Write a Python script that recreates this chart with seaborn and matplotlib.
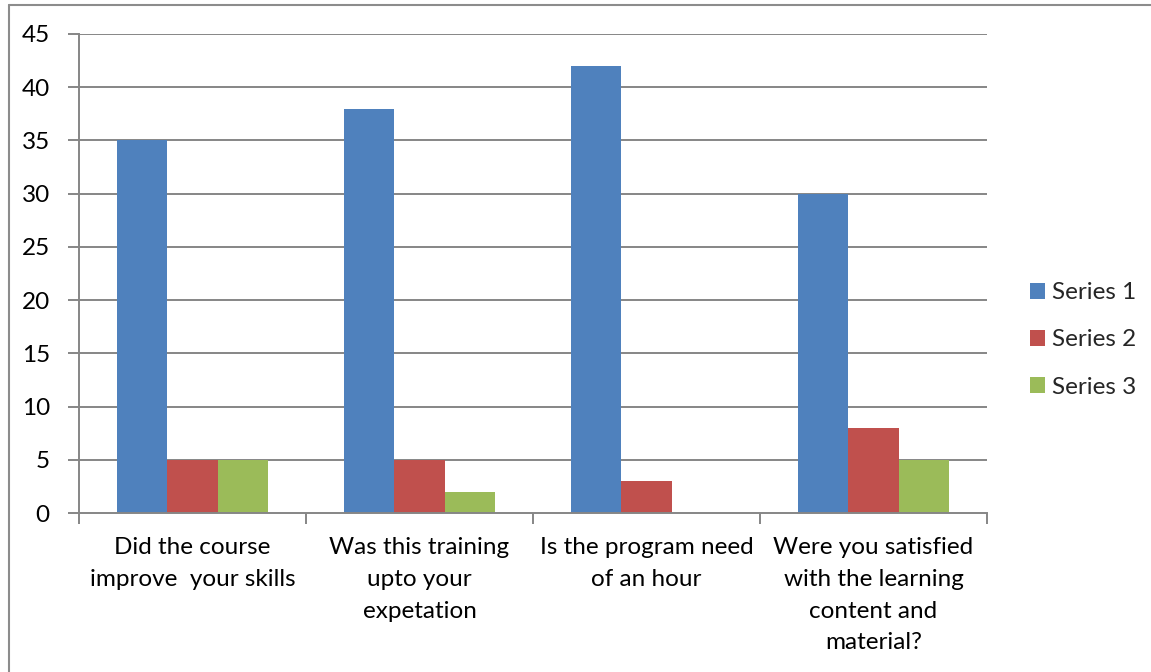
import matplotlib
matplotlib.use("Agg")
import matplotlib.pyplot as plt
from matplotlib.lines import Line2D
from matplotlib.patches import Patch
import seaborn as sns
import pandas as pd
import numpy as np

categories = [
    "Did the course\nimprove  your skills",
    "Was this training\nupto your\nexpetation",
    "Is the program need\nof an hour",
    "Were you satisfied\nwith the learning\ncontent and\nmaterial?",
]
series_names = ["Series 1", "Series 2", "Series 3"]
series1 = [35, 38, 42, 30]
series2 = [5, 5, 3, 8]
series3 = [5, 2, 0, 5]
colors = ["#4F81BD", "#C0504D", "#9BBB59"]
yticks = [0, 5, 10, 15, 20, 25, 30, 35, 40, 45]

rows = []
for name, vals in zip(series_names, [series1, series2, series3]):
    for c, v in zip(categories, vals):
        rows.append({"cat": c, "val": v, "series": name})
df = pd.DataFrame(rows)

sns.set_theme(style="white")
plt.rcParams["font.family"] = ["Lato", "DejaVu Sans"]
FS = 17.5

fig = plt.figure(figsize=(11.51, 6.72), dpi=100)
ax = fig.add_axes([79/1151, 1 - 513/672, (987-79)/1151, (513-34)/672])

sns.barplot(data=df, x="cat", y="val", hue="series", palette=colors,
            width=0.665, saturation=1, ax=ax, legend=False, linewidth=0,
            edgecolor="none", errorbar=None)

grid_c = "#868686"
ax.set_ylim(0, 45)
ax.set_xlim(-0.5, 3.5)
ax.set_yticks(yticks)
ax.set_yticklabels([str(t) for t in yticks], fontsize=FS, color="black")
for t in yticks:
    if t > 0:
        ax.axhline(t, color=grid_c, lw=1.4, zorder=0)
ax.set_axisbelow(True)

ax.set_xticks(range(len(categories)))
ax.set_xticklabels(categories, fontsize=FS, color="black", linespacing=1.63)
ax.set_xticks(np.arange(-0.5, len(categories), 1.0), minor=True)
ax.tick_params(axis="x", which="major", length=0, pad=17.5)
ax.tick_params(axis="x", which="minor", length=8, width=1.4, color=grid_c, direction="out", bottom=True)
ax.tick_params(axis="y", length=8, width=1.4, color=grid_c, direction="out", left=True, pad=13)

ax.set_xlabel("")
ax.set_ylabel("")
for s in ["top", "right"]:
    ax.spines[s].set_visible(False)
for s in ["left", "bottom"]:
    ax.spines[s].set_color(grid_c)
    ax.spines[s].set_linewidth(1.4)

handles = [Patch(facecolor=c, edgecolor="none") for c in colors]
fig.legend(handles, series_names, loc="center left",
           bbox_to_anchor=(1008/1151, 1 - 340/672), frameon=False,
           fontsize=FS, handlelength=0.62, handleheight=0.62,
           handletextpad=0.28, labelspacing=1.08)

# outer chart border (left and top edges visible)
fig.add_artist(Line2D([9/1151, 9/1151], [0, 1 - 5/672], transform=fig.transFigure,
                      color="#8c8c8c", lw=1.5))
fig.add_artist(Line2D([9/1151, 1], [1 - 5/672, 1 - 5/672], transform=fig.transFigure,
                      color="#8c8c8c", lw=1.5))

fig.savefig("out.png", dpi=100)
